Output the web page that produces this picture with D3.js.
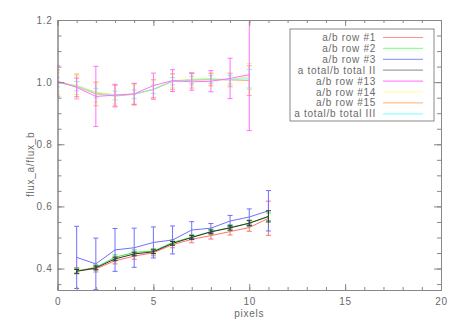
<!DOCTYPE html>
<html>
<head>
<meta charset="utf-8">
<script src="https://cdn.jsdelivr.net/npm/d3@7"></script>
<style>
  body { margin: 0; background: #fff; }
  svg text { font-family: "Liberation Sans", sans-serif; fill: #6a6a6a; letter-spacing: 0.7px; }
</style>
</head>
<body>
<div id="chart"></div>
<script>
// lower group, pixels 1..11
const xLow = [1, 2, 3, 4, 5, 6, 7, 8, 9, 10, 11];
const row1 = [0.393, 0.399, 0.425, 0.440, 0.451, 0.477, 0.494, 0.506, 0.519, 0.532, 0.562];
const row1Err = [0.010, 0.010, 0.010, 0.010, 0.010, 0.010, 0.011, 0.011, 0.011, 0.012, 0.055];
const row2 = [0.392, 0.404, 0.436, 0.452, 0.456, 0.484, 0.501, 0.519, 0.532, 0.546, 0.567];
const row2Err = [0.008, 0.008, 0.008, 0.008, 0.008, 0.008, 0.008, 0.008, 0.009, 0.010, 0.012];
const row3 = [0.436, 0.415, 0.460, 0.467, 0.484, 0.492, 0.524, 0.530, 0.553, 0.566, 0.586];
const row3Err = [0.100, 0.083, 0.069, 0.063, 0.050, 0.045, 0.027, 0.015, 0.018, 0.026, 0.065];
const totII = [0.391, 0.402, 0.431, 0.447, 0.454, 0.481, 0.500, 0.518, 0.531, 0.546, 0.568];
const totIIErr = [0.006, 0.006, 0.006, 0.006, 0.006, 0.006, 0.006, 0.006, 0.007, 0.008, 0.018];

// upper group, pixels 0..10
const xHigh = [0, 1, 2, 3, 4, 5, 6, 7, 8, 9, 10];
const row13 = [1.003, 0.983, 0.954, 0.958, 0.962, 0.989, 1.005, 1.001, 1.003, 1.012, 1.024];
const row13Err = [0.050, 0.030, 0.097, 0.035, 0.034, 0.040, 0.035, 0.027, 0.034, 0.065, 0.180];
const row14 = [1.000, 0.990, 0.968, 0.960, 0.962, 0.978, 1.004, 1.010, 1.012, 1.008, 1.018];
const row14Err = [0.030, 0.030, 0.032, 0.030, 0.030, 0.028, 0.022, 0.020, 0.018, 0.020, 0.042];
const row15 = [0.999, 0.986, 0.962, 0.955, 0.961, 0.976, 1.002, 1.006, 1.008, 1.007, 1.005];
const row15Err = [0.040, 0.040, 0.038, 0.035, 0.035, 0.032, 0.025, 0.025, 0.020, 0.022, 0.048];
const totIII = [1.000, 0.987, 0.965, 0.957, 0.961, 0.977, 1.003, 1.007, 1.009, 1.008, 1.011];
const totIIIErr = [0.015, 0.015, 0.015, 0.014, 0.014, 0.014, 0.012, 0.012, 0.012, 0.014, 0.030];

const xTicks = [0, 5, 10, 15, 20];
const yTicks = [0.4, 0.6, 0.8, 1.0, 1.2];

const series = [
  {name: "a/b row #1", x: xLow, y: row1, e: row1Err, color: "#ff7070", key: "#ff9090"},
  {name: "a/b row #2", x: xLow, y: row2, e: row2Err, color: "#40e040", key: "#90ff90"},
  {name: "a/b row #3", x: xLow, y: row3, e: row3Err, color: "#7070ff", key: "#a0a0ff"},
  {name: "a total/b total II", x: xLow, y: totII, e: totIIErr, color: "#303830", key: "#a0a0a0"},
  {name: "a/b row #13", x: xHigh, y: row13, e: row13Err, color: "#ff70ff", key: "#ff88ff"},
  {name: "a/b row #14", x: xHigh, y: row14, e: row14Err, color: "#f0f070", key: "#ffff90"},
  {name: "a/b row #15", x: xHigh, y: row15, e: row15Err, color: "#ffb070", key: "#ffc090"},
  {name: "a total/b total III", x: xHigh, y: totIII, e: totIIIErr, color: "#80f0e0", key: "#90ffff"}
];
// draw order: upper ones with magenta on top, lower ones with total II on top
const drawOrder = [5, 6, 7, 4, 0, 1, 2, 3];

const W = 458, H = 327;
const margin = {top: 20, right: 17, bottom: 37, left: 57.5};
const width = W - margin.left - margin.right,
    height = H - margin.top - margin.bottom;

const x = d3.scaleLinear().domain([0, 20]).range([0, width]);
const y = d3.scaleLinear().domain([0.331, 1.2]).range([height, 0]);

const svg = d3.select("#chart").append("svg")
    .attr("width", W)
    .attr("height", H)
  .append("g")
    .attr("transform", "translate(" + margin.left + "," + margin.top + ")");

svg.append("defs").append("clipPath").attr("id", "clip")
  .append("rect").attr("width", width).attr("height", height);

const plot = svg.append("g").attr("clip-path", "url(#clip)");

const line = d3.line().x(d => x(d[0])).y(d => y(d[1]));

drawOrder.forEach(i => {
  const s = series[i];
  const pts = s.x.map((v, j) => [v, s.y[j], s.e[j]]);
  const g = plot.append("g").attr("stroke", s.color).attr("fill", "none").attr("stroke-width", 1);
  g.append("path").datum(pts).attr("d", line);
  pts.forEach(p => {
    const cx = x(p[0]), y0 = y(p[1] - p[2]), y1 = y(p[1] + p[2]);
    g.append("line").attr("x1", cx).attr("x2", cx).attr("y1", y0).attr("y2", y1);
    g.append("line").attr("x1", cx - 2.5).attr("x2", cx + 2.5).attr("y1", y0).attr("y2", y0);
    g.append("line").attr("x1", cx - 2.5).attr("x2", cx + 2.5).attr("y1", y1).attr("y2", y1);
  });
});

// axes, IDL style box with ticks on all sides
const axisColor = "#888";
function styleAxis(g) {
  g.select(".domain").attr("stroke", axisColor);
  g.selectAll(".tick line").attr("stroke", axisColor);
  g.selectAll(".tick text").attr("fill", "#6a6a6a").style("font-size", "10px");
}

const xMinor = d3.range(0, 21, 1);
const yMinor = d3.range(0.35, 1.2001, 0.05);

svg.append("g").attr("transform", "translate(0," + height + ")")
  .call(d3.axisBottom(x).tickValues(xMinor).tickSize(-3).tickFormat(""))
  .call(styleAxis);
svg.append("g").attr("transform", "translate(0," + height + ")")
  .call(d3.axisBottom(x).tickValues(xTicks).tickSize(-6).tickPadding(8).tickFormat(d3.format("d")))
  .call(styleAxis);
svg.append("g")
  .call(d3.axisTop(x).tickValues(xMinor).tickSize(-3).tickFormat(""))
  .call(styleAxis);
svg.append("g")
  .call(d3.axisTop(x).tickValues(xTicks).tickSize(-6).tickFormat(""))
  .call(styleAxis);

svg.append("g")
  .call(d3.axisLeft(y).tickValues(yMinor).tickSize(-4).tickFormat(""))
  .call(styleAxis);
svg.append("g")
  .call(d3.axisLeft(y).tickValues(yTicks).tickSize(-7).tickPadding(5).tickFormat(d3.format(".1f")))
  .call(styleAxis);
svg.append("g").attr("transform", "translate(" + width + ",0)")
  .call(d3.axisRight(y).tickValues(yMinor).tickSize(-4).tickFormat(""))
  .call(styleAxis);
svg.append("g").attr("transform", "translate(" + width + ",0)")
  .call(d3.axisRight(y).tickValues(yTicks).tickSize(-7).tickFormat(""))
  .call(styleAxis);

svg.append("text")
  .attr("x", x(10)).attr("y", height + 27)
  .attr("text-anchor", "middle")
  .style("font-size", "10px")
  .text("pixels");

svg.append("text")
  .attr("transform", "translate(-24," + (y(0.735)) + ") rotate(-90)")
  .attr("text-anchor", "middle")
  .style("font-size", "10px")
  .text("flux_a/flux_b");

// legend
const lg = svg.append("g").attr("transform", "translate(" + (290 - margin.left) + "," + (29 - margin.top) + ")");
lg.append("rect").attr("width", 144).attr("height", 92)
  .attr("fill", "#fff").attr("stroke", axisColor);
series.forEach((s, i) => {
  const yy = 8.5 + i * 10.9;
  lg.append("text").attr("x", 86).attr("y", yy).attr("dy", "0.35em")
    .attr("text-anchor", "end").style("font-size", "10px").text(s.name);
  lg.append("line").attr("x1", 93).attr("x2", 133).attr("y1", yy).attr("y2", yy)
    .attr("stroke", s.key).attr("stroke-width", 1.2);
});
</script>
</body>
</html>
